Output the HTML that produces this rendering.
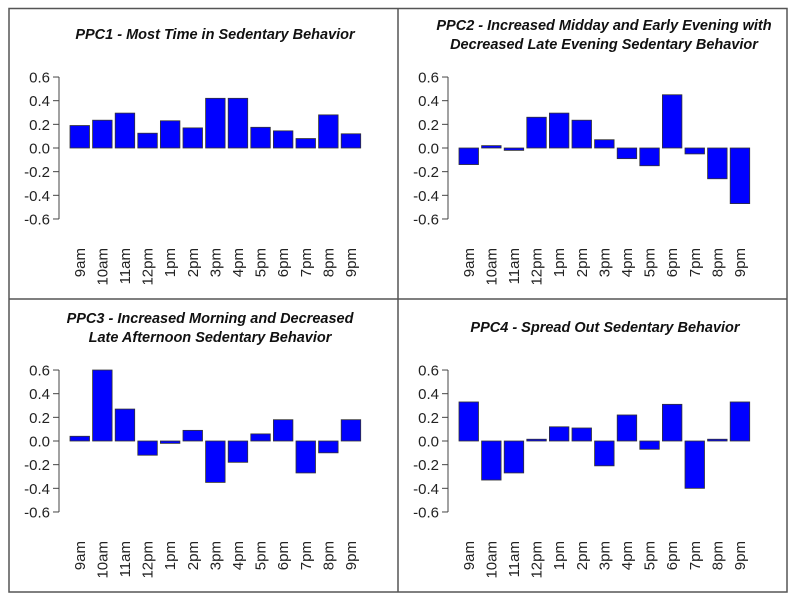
<!DOCTYPE html>
<html><head><meta charset="utf-8"><style>
html,body{margin:0;padding:0;background:#fff;width:796px;height:602px;overflow:hidden}
svg{display:block;font-family:"Liberation Sans",Arial,sans-serif}
</style></head><body>
<svg id="c" width="796" height="602" viewBox="0 0 796 602">
<rect x="9" y="8.5" width="778" height="583.5" fill="none" stroke="#555" stroke-width="1.5"/>
<line x1="398" y1="8.5" x2="398" y2="592" stroke="#555" stroke-width="1.5"/>
<line x1="9" y1="299" x2="787" y2="299" stroke="#555" stroke-width="1.5"/>
</svg>
<script>
const categories=["9am","10am","11am","12pm","1pm","2pm","3pm","4pm","5pm","6pm","7pm","8pm","9pm"];
const tickValues=[-0.6,-0.4,-0.2,0.0,0.2,0.4,0.6];
const tickLabels=["-0.6","-0.4","-0.2","0.0","0.2","0.4","0.6"];
const ppc1Values=[0.19,0.235,0.295,0.125,0.23,0.17,0.42,0.42,0.175,0.145,0.08,0.28,0.12];
const ppc2Values=[-0.14,0.02,-0.02,0.26,0.295,0.235,0.07,-0.09,-0.15,0.45,-0.05,-0.26,-0.47];
const ppc3Values=[0.04,0.60,0.27,-0.12,-0.02,0.09,-0.35,-0.18,0.06,0.18,-0.27,-0.10,0.18];
const ppc4Values=[0.33,-0.33,-0.27,0.015,0.12,0.11,-0.21,0.22,-0.07,0.31,-0.40,0.015,0.33];
const ppc1Title=["PPC1 - Most Time in Sedentary Behavior"];
const ppc2Title=["PPC2 - Increased Midday and Early Evening with","Decreased Late Evening Sedentary Behavior"];
const ppc3Title=["PPC3 - Increased Morning and Decreased","Late Afternoon Sedentary Behavior"];
const ppc4Title=["PPC4 - Spread Out Sedentary Behavior"];

const NS="http://www.w3.org/2000/svg";
const svg=document.getElementById("c");
function mk(tag,attrs,parent){const e=document.createElementNS(NS,tag);for(const k in attrs)e.setAttribute(k,attrs[k]);(parent||svg).appendChild(e);return e;}

function panel(name,title,values,ox,oy,titleY,titleX){
  const g=mk("g",{});
  
  
  const axisX=ox, zeroY=oy, scale=118.3;
  const yScale=v=>zeroY-v*scale;
  const barStart=axisX+11, pitch=22.6, bw=19.5;
  const xScale=i=>barStart+i*pitch;
  title.forEach((t,i)=>{
    const tx=mk("text",{x:titleX,y:titleY+i*19,"text-anchor":"middle","font-size":"14.5","font-weight":"bold","font-style":"italic",fill:"#111"},g);
    
    
    tx.textContent=t;
  });
  const ax=mk("line",{x1:axisX,x2:axisX,y1:yScale(0.6),y2:yScale(-0.6),stroke:"#444","stroke-width":1},g);
  
  
  tickValues.forEach((v,i)=>{
    const y=yScale(v);
    const tk=mk("line",{x1:axisX-6,x2:axisX,y1:y,y2:y,stroke:"#444","stroke-width":1},g);
    
    
    const tl=mk("text",{x:axisX-9,y:y+5.5,"text-anchor":"end","font-size":"15",fill:"#222"},g);
    
    
    tl.textContent=tickLabels[i];
  });
  values.forEach((v,i)=>{
    const x=xScale(i);
    const y0=yScale(Math.max(v,0)), y1=yScale(Math.min(v,0));
    const r=mk("rect",{x:x,y:y0,width:bw,height:Math.max(y1-y0,1),fill:"#0000ff",stroke:"#333","stroke-width":0.8},g);
    
    
    const cx=x+bw/2+5;
    const lb=mk("text",{x:cx,y:zeroY+100,"text-anchor":"end","font-size":"15",fill:"#222",transform:`rotate(-90 ${cx} ${zeroY+100})`},g);
    
    
    lb.textContent=categories[i];
  });
}
panel("ppc1-panel",ppc1Title,ppc1Values,59,148,39,215);
panel("ppc2-panel",ppc2Title,ppc2Values,448,148,30,604);
panel("ppc3-panel",ppc3Title,ppc3Values,59,441,323,210);
panel("ppc4-panel",ppc4Title,ppc4Values,448,441,332,605);
</script>
</body></html>
